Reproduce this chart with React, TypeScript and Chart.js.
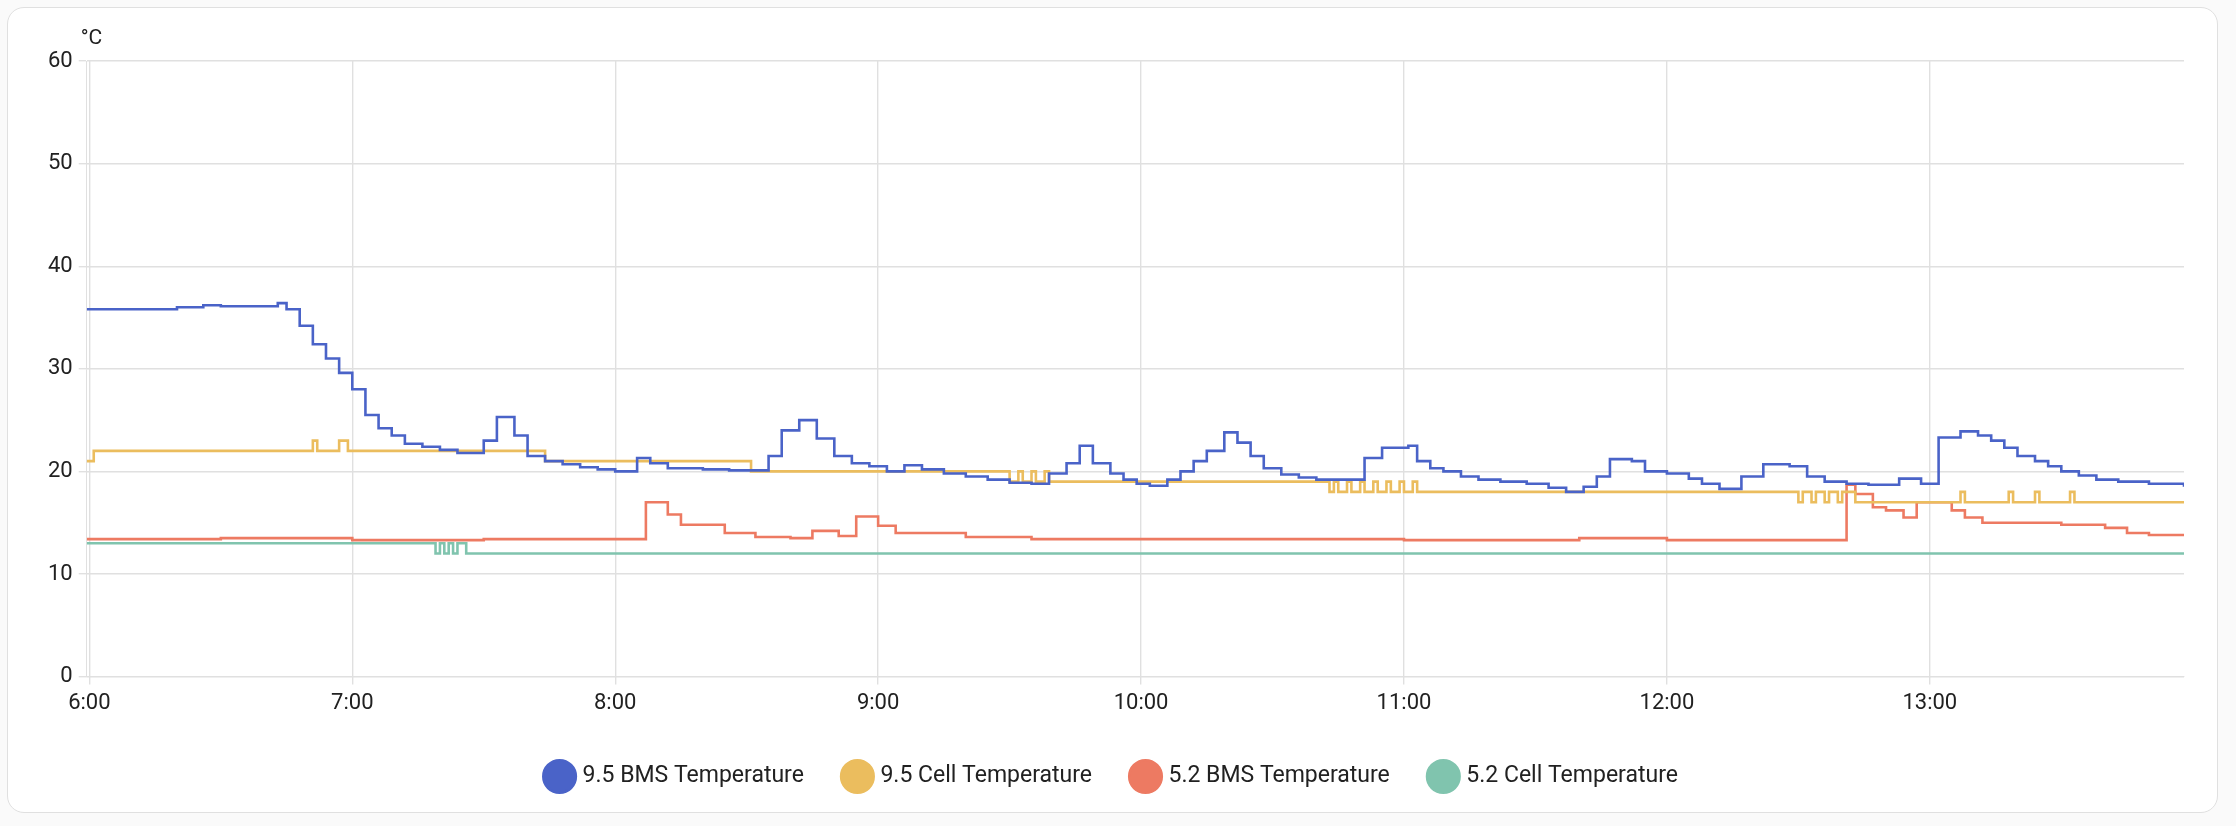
import React, { useEffect, useRef } from 'react';
import { Chart, registerables } from 'chart.js';

Chart.register(...registerables);

// x values are minutes after 6:00
const hourTicks = [0, 60, 120, 180, 240, 300, 360, 420];
const hourLabels = ['6:00', '7:00', '8:00', '9:00', '10:00', '11:00', '12:00', '13:00'];

const bms95T = [-0.6, 20, 26, 30, 43, 45, 48, 51, 54, 57, 60, 63, 66, 69, 72, 76, 80, 84, 90, 93, 97, 100, 104, 108, 112, 116, 120, 125, 128, 132, 140, 146, 155, 158, 162, 166, 170, 174, 178, 182, 186, 190, 195, 200, 205, 210, 215, 219, 223, 226, 229, 233, 236, 239, 242, 246, 249, 252, 255, 259, 262, 265, 268, 272, 276, 280, 291, 295, 301, 303, 306, 309, 313, 317, 322, 328, 333, 337, 341, 344, 347, 352, 355, 360, 365, 368, 372, 377, 382, 388, 392, 396, 401, 406, 413, 418, 422, 427, 431, 434, 437, 440, 444, 447, 450, 454, 458, 463, 470, 478];
const bms95V = [35.8, 36.0, 36.2, 36.1, 36.4, 35.8, 34.2, 32.4, 31, 29.6, 28, 25.5, 24.2, 23.5, 22.7, 22.4, 22.1, 21.8, 23, 25.3, 23.5, 21.5, 21, 20.7, 20.4, 20.2, 20, 21.3, 20.8, 20.3, 20.2, 20.1, 21.5, 24, 25, 23.2, 21.5, 20.8, 20.5, 20, 20.6, 20.2, 19.8, 19.5, 19.2, 18.9, 18.8, 19.8, 20.8, 22.5, 20.8, 19.8, 19.2, 18.8, 18.6, 19.2, 20, 21, 22, 23.8, 22.8, 21.5, 20.3, 19.7, 19.4, 19.2, 21.3, 22.3, 22.5, 21, 20.3, 20, 19.5, 19.2, 19, 18.8, 18.4, 18, 18.5, 19.5, 21.2, 21.0, 20, 19.8, 19.3, 18.8, 18.3, 19.5, 20.7, 20.5, 19.5, 19, 18.8, 18.7, 19.3, 18.8, 23.3, 23.9, 23.5, 23, 22.3, 21.5, 21, 20.5, 20, 19.6, 19.2, 19, 18.8, 18.5];

const cell95T = [-0.6, 1, 51, 52, 57, 59, 104, 151, 210, 212, 213, 215, 216, 218, 219, 283, 284, 285, 287, 288, 290, 291, 293, 294, 296, 297, 299, 300, 302, 303, 390, 391, 393, 394, 396, 397, 399, 400, 403, 427, 428, 438, 439, 444, 445, 452, 453, 478];
const cell95V = [21, 22, 23, 22, 23, 22, 21, 20, 19, 20, 19, 20, 19, 20, 19, 18, 19, 18, 19, 18, 19, 18, 19, 18, 19, 18, 19, 18, 19, 18, 17, 18, 17, 18, 17, 18, 17, 18, 17, 18, 17, 18, 17, 18, 17, 18, 17, 17];

const bms52T = [-0.6, 30, 60, 90, 127, 132, 135, 145, 152, 160, 165, 171, 175, 180, 184, 200, 215, 300, 340, 360, 401, 403, 407, 410, 414, 417, 425, 428, 432, 450, 460, 465, 470, 478];
const bms52V = [13.4, 13.5, 13.3, 13.4, 17, 15.8, 14.8, 14, 13.6, 13.5, 14.2, 13.7, 15.6, 14.7, 14, 13.6, 13.4, 13.3, 13.5, 13.3, 18.7, 17.8, 16.5, 16.2, 15.5, 17, 16.2, 15.5, 15, 14.8, 14.5, 14, 13.8, 13.8];

const cell52T = [-0.6, 79, 80, 81, 82, 83, 84, 86, 478];
const cell52V = [13, 12, 13, 12, 13, 12, 13, 12, 12];

const series = [
  { label: '9.5 BMS Temperature', t: bms95T, v: bms95V, color: '#4a63c8' },
  { label: '9.5 Cell Temperature', t: cell95T, v: cell95V, color: '#ebbd5e' },
  { label: '5.2 BMS Temperature', t: bms52T, v: bms52V, color: '#ed7a62' },
  { label: '5.2 Cell Temperature', t: cell52T, v: cell52V, color: '#80c4ae' },
];

const unitPlugin = {
  id: 'unitTitle',
  afterDraw(chart: Chart) {
    const { ctx, chartArea } = chart;
    ctx.save();
    ctx.fillStyle = '#212121';
    ctx.font = '21px Roboto';
    ctx.textBaseline = 'bottom';
    ctx.fillText('°C', chartArea.left - 6, chartArea.top - 12);
    ctx.restore();
  },
};

export default function App() {
  const canvasRef = useRef<HTMLCanvasElement>(null);

  useEffect(() => {
    document.body.style.margin = '0';
    document.body.style.background = '#fafafa';
    if (!canvasRef.current) return;
    const chart = new Chart(canvasRef.current, {
      type: 'line',
      data: {
        datasets: series.map((s) => ({
          label: s.label,
          data: s.t.map((x, i) => ({ x, y: s.v[i] })),
          borderColor: s.color,
          backgroundColor: s.color,
          borderWidth: 2.6,
          stepped: true,
          pointRadius: 0,
        })),
      },
      options: {
        animation: false,
        responsive: true,
        maintainAspectRatio: false,
        layout: { padding: { left: 34, right: 33, top: 53, bottom: 14 } },
        scales: {
          x: {
            type: 'linear',
            min: -0.6,
            max: 478,
            afterBuildTicks: (axis: any) => {
              axis.ticks = hourTicks.map((value) => ({ value }));
            },
            grid: { color: '#e0e0e0', lineWidth: 1.4 },
            border: { color: '#e0e0e0' },
            ticks: {
              color: '#212121',
              font: { family: 'Roboto', size: 22 },
              maxRotation: 0,
              padding: 6,
              callback: (value: any) => hourLabels[hourTicks.indexOf(Number(value))] ?? '',
            },
          },
          y: {
            min: 0,
            max: 60,
            grid: { color: '#e0e0e0', lineWidth: 1.4 },
            border: { color: '#e0e0e0' },
            ticks: { stepSize: 10, color: '#212121', font: { family: 'Roboto', size: 22 }, padding: 6 },
          },
        },
        plugins: {
          legend: {
            position: 'bottom',
            labels: {
              usePointStyle: true,
              pointStyle: 'circle',
              boxWidth: 30,
              boxHeight: 30,
              padding: 42,
              color: '#212121',
              font: { family: 'Roboto', size: 23 },
            },
          },
          tooltip: { enabled: false },
        },
      },
      plugins: [unitPlugin],
    });
    return () => chart.destroy();
  }, []);

  return (
    <div
      style={{
        position: 'absolute',
        left: 7,
        top: 7,
        width: 2209,
        height: 804,
        border: '1px solid #e0e0e0',
        borderRadius: 17,
        background: '#fff',
        boxSizing: 'content-box',
      }}
    >
      <div style={{ position: 'relative', width: '100%', height: '100%' }}>
        <canvas ref={canvasRef} />
      </div>
    </div>
  );
}
